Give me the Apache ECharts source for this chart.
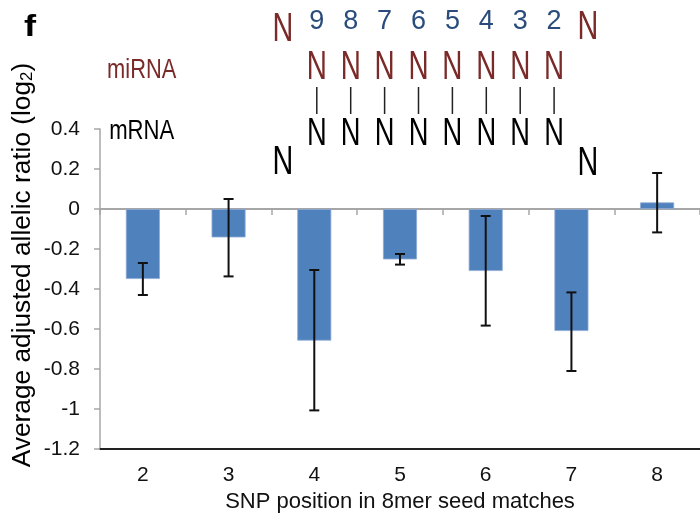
<!DOCTYPE html>
<html>
<head>
<meta charset="utf-8">
<script src="https://cdn.jsdelivr.net/npm/echarts@6/dist/echarts.min.js"></script>
<style>
html,body{margin:0;padding:0;background:#fff;}
#chart{width:700px;height:527px;}
</style>
</head>
<body>
<div id="chart"></div>
<script>
// ---- data ----
const categories = ['2', '3', '4', '5', '6', '7', '8'];
const meanValues = [-0.35, -0.142, -0.658, -0.252, -0.31, -0.61, 0.033];
const errLow = [-0.43, -0.337, -1.007, -0.278, -0.583, -0.81, -0.117];
const errHigh = [-0.27, 0.05, -0.305, -0.225, -0.035, -0.417, 0.18];
const yMin = -1.2, yMax = 0.4, yStep = 0.2;
const seedNumbers = ['9', '8', '7', '6', '5', '4', '3', '2'];
const panelLetter = 'f';
const xTitle = 'SNP position in 8mer seed matches';

// ---- layout / style ----
const FONT = 'Liberation Sans';
const BROWN = '#7A2A28';
const NAVY = '#2A4C7C';
const colX0 = 316.8, colStep = 33.9;

function txt(x, y, text, size, color, extra) {
  const o = {type:'text', x:x, y:y,
    style:{text:text, fontSize:size, fontFamily:FONT, fill:color, textAlign:'center', textVerticalAlign:'middle'}};
  if (extra) {
    Object.keys(extra).forEach(function (k) {
      if (k === 'style') Object.assign(o.style, extra.style); else o[k] = extra[k];
    });
  }
  return o;
}

const graphics = [];
graphics.push(txt(30, 28, panelLetter, 29, '#000', {scaleX:1.25, style:{fontWeight:'bold'}}));
graphics.push(txt(141.7, 70, 'miRNA', 28, BROWN, {scaleX:0.78}));
graphics.push(txt(141.7, 131, 'mRNA', 28, '#000', {scaleX:0.79}));
[[283, 29.5, BROWN], [588, 27.5, BROWN], [283, 162.5, '#000'], [588, 163.5, '#000']].forEach(function (p) {
  graphics.push(txt(p[0], p[1], 'N', 40, p[2], {scaleX:0.72}));
});
seedNumbers.forEach(function (s, i) {
  const x = colX0 + i * colStep;
  graphics.push(txt(x, 22, s, 27, NAVY));
  graphics.push(txt(x, 68, 'N', 41, BROWN, {scaleX:0.68}));
  graphics.push({type:'line', shape:{x1:x, y1:87, x2:x, y2:114}, style:{stroke:'#222', lineWidth:1.5}});
  graphics.push(txt(x, 134, 'N', 39, '#000', {scaleX:0.7}));
});
// y axis title
graphics.push({type:'text', x:23, y:265, rotation:Math.PI/2, scaleX:1.05,
  style:{text:'Average adjusted allelic ratio (log{s|2})', fontSize:25, fontFamily:FONT, fill:'#000',
    textAlign:'center', textVerticalAlign:'middle',
    rich:{s:{fontSize:16, fontFamily:FONT, verticalAlign:'bottom', padding:[8,0,0,0]}}}});

const chart = echarts.init(document.getElementById('chart'), null, {renderer:'canvas'});
chart.setOption({
  animation:false,
  backgroundColor:'#fff',
  grid:{left:100, right:0, top:129, bottom:78, containLabel:false},
  xAxis:[
    {type:'category', data:categories, position:'bottom',
     axisLine:{onZero:true, lineStyle:{color:'#A6A6A6', width:2}},
     axisTick:{show:true, length:6, lineStyle:{color:'#A6A6A6', width:1.5}},
     axisLabel:{show:false}, splitLine:{show:false}},
    {type:'category', data:categories, position:'bottom',
     axisLine:{onZero:false, lineStyle:{color:'#222', width:2}},
     axisTick:{show:false},
     axisLabel:{show:true, margin:16, fontSize:21, fontFamily:FONT, color:'#111'},
     name:xTitle, nameLocation:'middle', nameGap:36,
     nameTextStyle:{fontSize:22, fontFamily:FONT, color:'#111'}}
  ],
  yAxis:{type:'value', min:yMin, max:yMax, interval:yStep,
    axisLine:{show:true, lineStyle:{color:'#A6A6A6', width:1.5}},
    axisTick:{show:true, length:6, lineStyle:{color:'#A6A6A6', width:1.5}},
    axisLabel:{margin:20, fontSize:21, fontFamily:FONT, color:'#111'},
    splitLine:{show:false}},
  series:[
    {type:'bar', xAxisIndex:0, data:meanValues, barWidth:34,
     itemStyle:{color:'#4F81BD', borderColor:'#8EAAD6', borderWidth:0.8}},
    {type:'custom', xAxisIndex:0, z:5,
     data:categories.map(function (c, i) { return [i, errLow[i], errHigh[i]]; }),
     encode:{x:0, y:[1, 2]},
     renderItem:function (params, api) {
       const lo = api.coord([api.value(0), api.value(1)]);
       const hi = api.coord([api.value(0), api.value(2)]);
       const h = 5;
       const st = {stroke:'#111', lineWidth:2};
       return {type:'group', children:[
         {type:'line', shape:{x1:lo[0], y1:lo[1], x2:hi[0], y2:hi[1]}, style:st},
         {type:'line', shape:{x1:lo[0]-h, y1:lo[1], x2:lo[0]+h, y2:lo[1]}, style:st},
         {type:'line', shape:{x1:hi[0]-h, y1:hi[1], x2:hi[0]+h, y2:hi[1]}, style:st}
       ]};
     }}
  ],
  graphic:graphics
});
</script>
</body>
</html>
